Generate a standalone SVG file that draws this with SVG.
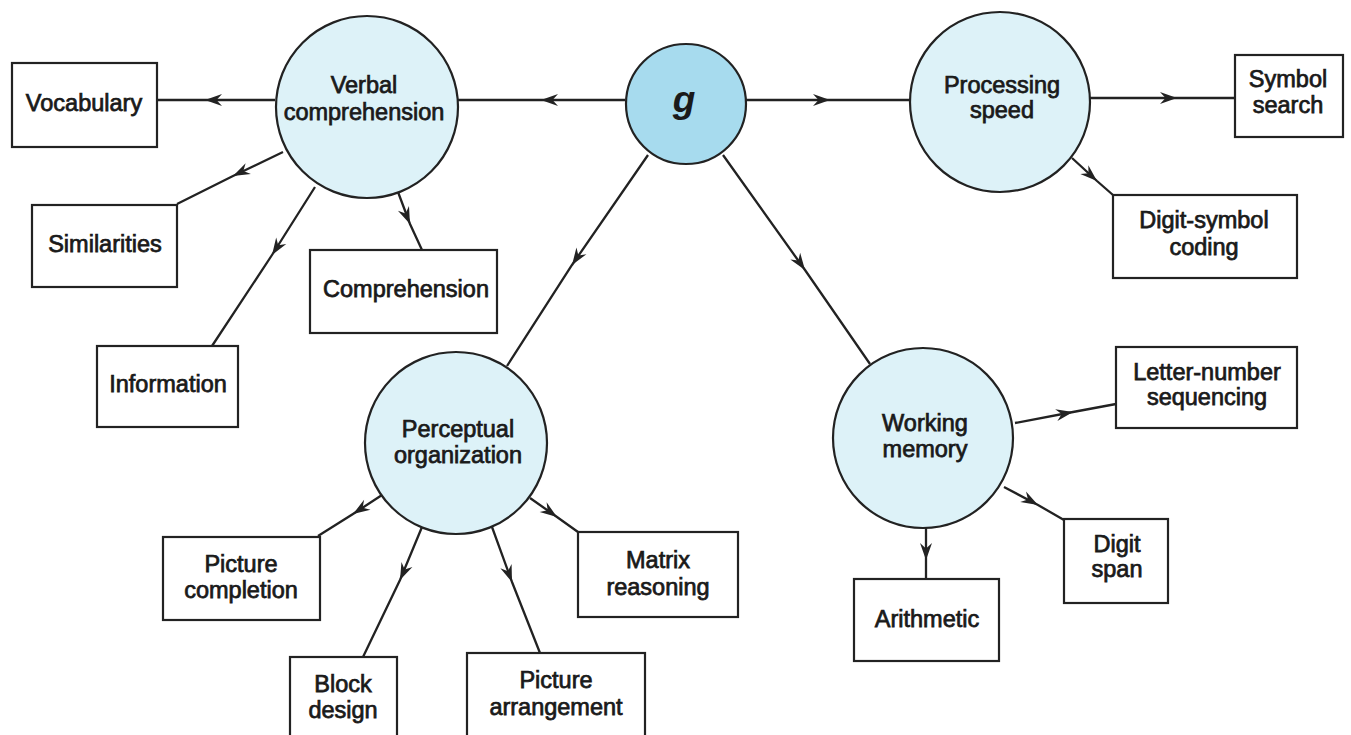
<svg xmlns="http://www.w3.org/2000/svg" width="1351" height="735" viewBox="0 0 1351 735">
  <style>
    .factor { fill: #ddf2f8; stroke: #222222; stroke-width: 2.2; }
    .general { fill: #a7dbee; stroke: #222222; stroke-width: 2.2; }
    .test { fill: #ffffff; stroke: #222222; stroke-width: 2.2; }
    .label { font-family: "Liberation Sans", Arial, Helvetica, sans-serif; font-size: 23.5px; fill: #1a1a1a; stroke: #1a1a1a; stroke-width: 0.75; text-anchor: middle; }
    .g-label { font-family: "Liberation Sans", Arial, Helvetica, sans-serif; font-size: 37px; font-style: italic; font-weight: bold; fill: #1a1a1a; text-anchor: middle; }
    .link { fill: none; stroke: #222222; stroke-width: 2.3; marker-mid: url(#barb); }
  </style>
  <defs>
    <marker id="barb" viewBox="-19 -8 21 16" refX="0" refY="0" markerWidth="21" markerHeight="16" markerUnits="userSpaceOnUse" orient="auto">
      <path d="M0,0 L-17,-6 L-11.5,0 L-17,6 Z" fill="#222222"/>
    </marker>
  </defs>
  <rect width="1351" height="735" fill="#ffffff"/>

  <!-- connectors: each path passes through its arrow tip -->
  <g id="connectors">
    <path class="link" d="M625,100 L541,100 L457,100"/>
    <path class="link" d="M745,100 L830,100 L910,100"/>
    <path class="link" d="M648,155 L572,265 L507,366"/>
    <path class="link" d="M723,155 L805,270 L870,364"/>
    <path class="link" d="M275,100 L205,100 L157,100"/>
    <path class="link" d="M283,152 L233,176 L177,204"/>
    <path class="link" d="M315,187 L272,255 L212,346"/>
    <path class="link" d="M398,192 L410,224 L422,250"/>
    <path class="link" d="M1090,98 L1177,98 L1235,98"/>
    <path class="link" d="M1072,158 L1097,181 L1113,195"/>
    <path class="link" d="M382,495 L353,514 L318,536"/>
    <path class="link" d="M422,527 L400,580 L363,657"/>
    <path class="link" d="M492,527 L512,582 L540,653"/>
    <path class="link" d="M530,498 L557,517 L578,532"/>
    <path class="link" d="M1015,423 L1073,412 L1116,404"/>
    <path class="link" d="M1004,487 L1038,505 L1064,520"/>
    <path class="link" d="M926,528 L926,560 L926,579"/>
  </g>

  <g id="g">
    <circle class="general" cx="686" cy="104" r="60"/>
    <text class="g-label" x="684" y="112">g</text>
  </g>

  <g id="verbal-comprehension">
    <circle class="factor" cx="367" cy="107" r="91"/>
    <text class="label" x="364" y="93">Verbal</text>
    <text class="label" x="364" y="120">comprehension</text>
  </g>

  <g id="processing-speed">
    <circle class="factor" cx="1000" cy="102" r="90"/>
    <text class="label" x="1002" y="93">Processing</text>
    <text class="label" x="1002" y="118">speed</text>
  </g>

  <g id="perceptual-organization">
    <circle class="factor" cx="456" cy="443" r="91"/>
    <text class="label" x="458" y="437">Perceptual</text>
    <text class="label" x="458" y="463">organization</text>
  </g>

  <g id="working-memory">
    <circle class="factor" cx="923" cy="438" r="90"/>
    <text class="label" x="925" y="431">Working</text>
    <text class="label" x="925" y="457">memory</text>
  </g>

  <g id="vocabulary">
    <rect class="test" x="12" y="63" width="145" height="84"/>
    <text class="label" x="84" y="111">Vocabulary</text>
  </g>

  <g id="similarities">
    <rect class="test" x="32" y="205" width="145" height="82"/>
    <text class="label" x="105" y="252">Similarities</text>
  </g>

  <g id="information">
    <rect class="test" x="97" y="346" width="141" height="81"/>
    <text class="label" x="168" y="392">Information</text>
  </g>

  <g id="comprehension">
    <rect class="test" x="310" y="250" width="187" height="83"/>
    <text class="label" x="406" y="297">Comprehension</text>
  </g>

  <g id="symbol-search">
    <rect class="test" x="1235" y="55" width="108" height="82"/>
    <text class="label" x="1288" y="87">Symbol</text>
    <text class="label" x="1288" y="113">search</text>
  </g>

  <g id="digit-symbol-coding">
    <rect class="test" x="1113" y="195" width="184" height="83"/>
    <text class="label" x="1204" y="228">Digit-symbol</text>
    <text class="label" x="1204" y="255">coding</text>
  </g>

  <g id="picture-completion">
    <rect class="test" x="163" y="537" width="157" height="83"/>
    <text class="label" x="241" y="572">Picture</text>
    <text class="label" x="241" y="598">completion</text>
  </g>

  <g id="block-design">
    <rect class="test" x="290" y="657" width="107" height="82"/>
    <text class="label" x="343" y="692">Block</text>
    <text class="label" x="343" y="718">design</text>
  </g>

  <g id="picture-arrangement">
    <rect class="test" x="467" y="653" width="178" height="86"/>
    <text class="label" x="556" y="688">Picture</text>
    <text class="label" x="556" y="715">arrangement</text>
  </g>

  <g id="matrix-reasoning">
    <rect class="test" x="578" y="532" width="160" height="85"/>
    <text class="label" x="658" y="568">Matrix</text>
    <text class="label" x="658" y="595">reasoning</text>
  </g>

  <g id="letter-number-sequencing">
    <rect class="test" x="1116" y="347" width="181" height="81"/>
    <text class="label" x="1207" y="380">Letter-number</text>
    <text class="label" x="1207" y="405">sequencing</text>
  </g>

  <g id="digit-span">
    <rect class="test" x="1064" y="519" width="104" height="84"/>
    <text class="label" x="1117" y="552">Digit</text>
    <text class="label" x="1117" y="577">span</text>
  </g>

  <g id="arithmetic">
    <rect class="test" x="854" y="579" width="145" height="82"/>
    <text class="label" x="927" y="627">Arithmetic</text>
  </g>
</svg>
